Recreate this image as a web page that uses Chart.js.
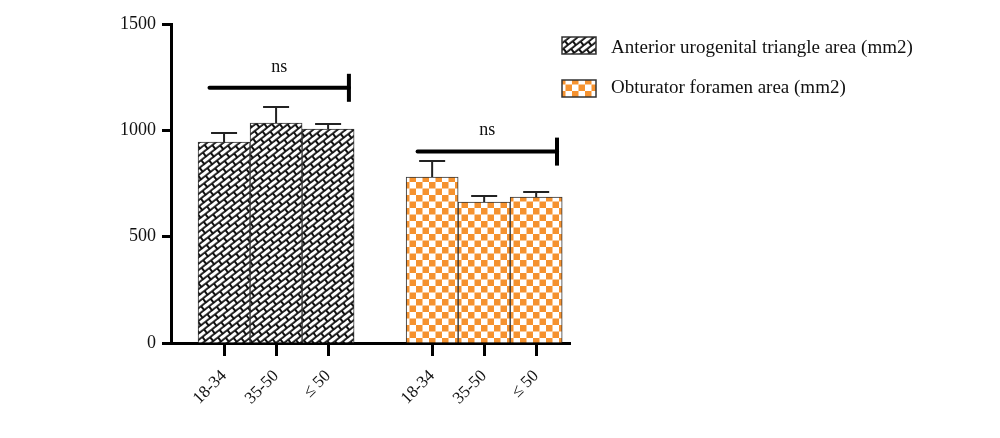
<!DOCTYPE html>
<html>
<head>
<meta charset="utf-8">
<script src="https://cdn.jsdelivr.net/npm/chart.js@4.4.0/dist/chart.umd.min.js"></script>
<style>
  html, body { margin: 0; padding: 0; background: #fff; }
  #wrap { width: 1000px; height: 438px; }
</style>
</head>
<body>
<div id="wrap"><canvas id="chart" width="1000" height="438"></canvas></div>
<script>
// 数据
const ageGroups = ['18-34', '35-50', '≤ 50'];
const seriesNames = ['Anterior urogenital triangle area (mm2)', 'Obturator foramen area (mm2)'];
const urogenitalMeans = [945, 1034, 1006];
const urogenitalErr = [42, 76, 24];
const obturatorMeans = [780, 663, 686];
const obturatorErr = [76, 28, 24];
const yTicks = [0, 500, 1000, 1500];
const sigLabels = ['ns', 'ns'];
const sigLevels = [1200, 900];

const FONT = "'Liberation Serif', serif";

// 组内位置: 每组之间空一个位置
function slot(group, i) {
    return group * (ageGroups.length + 1) + i;
}

// 砖纹图案
function brickPattern() {
    const c = document.createElement('canvas');
    c.width = 12; c.height = 10;
    const g = c.getContext('2d');
    g.fillStyle = '#111';
    g.fillRect(0, 0, 12, 10);
    g.fillStyle = '#fff';
    g.fillRect(1, 1, 10, 3.2);
    g.fillRect(7, 6, 10, 3.2);
    g.fillRect(-5, 6, 10, 3.2);
    const p = g.createPattern(c, 'repeat');
    p.setTransform(new DOMMatrix().rotate(-38));
    return p;
}

// 棋盘格图案
function checkerPattern() {
    const c = document.createElement('canvas');
    c.width = 13; c.height = 13;
    const g = c.getContext('2d');
    g.fillStyle = '#fff';
    g.fillRect(0, 0, 13, 13);
    g.fillStyle = '#F5922F';
    g.fillRect(0, 0, 6.5, 6.5);
    g.fillRect(6.5, 6.5, 6.5, 6.5);
    return g.createPattern(c, 'repeat');
}

const fills = [brickPattern(), checkerPattern()];
const means = [urogenitalMeans, obturatorMeans];
const errs = [urogenitalErr, obturatorErr];

const datasets = means.map((m, gi) => ({
    label: seriesNames[gi],
    data: m.map((v, i) => ({ x: slot(gi, i), y: v })),
    errors: errs[gi],
    backgroundColor: fills[gi],
    borderColor: '#333',
    borderWidth: 1,
    grouped: false,
    barPercentage: 1,
    categoryPercentage: 1
}));

const tickPositions = [];
const tickNames = {};
means.forEach((m, gi) => m.forEach((v, i) => {
    tickPositions.push(slot(gi, i));
    tickNames[slot(gi, i)] = ageGroups[i];
}));

// 误差线
const errorBars = {
    id: 'errorBars',
    afterDatasetsDraw(chart) {
        const ctx = chart.ctx;
        const y = chart.scales.y;
        ctx.save();
        ctx.strokeStyle = '#222';
        ctx.lineWidth = 2;
        chart.data.datasets.forEach((ds, di) => {
            chart.getDatasetMeta(di).data.forEach((bar, i) => {
                const top = y.getPixelForValue(ds.data[i].y + ds.errors[i]);
                const half = bar.width / 4;
                ctx.beginPath();
                ctx.moveTo(bar.x, bar.y);
                ctx.lineTo(bar.x, top);
                ctx.moveTo(bar.x - half, top);
                ctx.lineTo(bar.x + half, top);
                ctx.stroke();
            });
        });
        ctx.restore();
    }
};

// 显著性标记
const sigMarks = {
    id: 'sigMarks',
    afterDatasetsDraw(chart) {
        const ctx = chart.ctx;
        const xs = chart.scales.x, ys = chart.scales.y;
        ctx.save();
        sigLevels.forEach((lvl, gi) => {
            const x0 = xs.getPixelForValue(slot(gi, 0) - 0.28);
            const x1 = xs.getPixelForValue(slot(gi, ageGroups.length - 1) + 0.4);
            const yy = ys.getPixelForValue(lvl);
            ctx.strokeStyle = '#000';
            ctx.lineWidth = 4;
            ctx.lineCap = 'round';
            ctx.beginPath();
            ctx.moveTo(x0, yy);
            ctx.lineTo(x1, yy);
            ctx.stroke();
            ctx.lineCap = 'butt';
            ctx.beginPath();
            ctx.moveTo(x1, yy - 14);
            ctx.lineTo(x1, yy + 14);
            ctx.stroke();
            ctx.fillStyle = '#111';
            ctx.font = '18px ' + FONT;
            ctx.textAlign = 'center';
            ctx.textBaseline = 'middle';
            ctx.fillText(sigLabels[gi], (x0 + x1) / 2, yy - 21);
        });
        ctx.restore();
    }
};

// 图例
const sideLegend = {
    id: 'sideLegend',
    afterDraw(chart) {
        const ctx = chart.ctx;
        ctx.save();
        seriesNames.forEach((name, i) => {
            const top = 37 + i * 43;
            ctx.fillStyle = fills[i];
            ctx.fillRect(562, top, 34, 17);
            ctx.strokeStyle = '#333';
            ctx.lineWidth = 1.5;
            ctx.strokeRect(562, top, 34, 17);
            ctx.fillStyle = '#111';
            ctx.font = '19px ' + FONT;
            ctx.textAlign = 'left';
            ctx.textBaseline = 'middle';
            ctx.fillText(name, 611, top + 11 - i * 3);
        });
        ctx.restore();
    }
};

new Chart(document.getElementById('chart'), {
    type: 'bar',
    data: { datasets: datasets },
    options: {
        responsive: false,
        animation: false,
        layout: { padding: { left: 111, right: 430, top: 24, bottom: 0 } },
        plugins: {
            legend: { display: false },
            tooltip: { enabled: false }
        },
        scales: {
            x: {
                type: 'linear',
                min: -1.02,
                max: 6.65,
                offset: false,
                afterBuildTicks: scale => {
                    scale.ticks = tickPositions.map(v => ({ value: v }));
                },
                afterFit: scale => { scale.height = 95; },
                ticks: {
                    autoSkip: false,
                    minRotation: 45,
                    maxRotation: 45,
                    padding: 10,
                    color: '#111',
                    font: { family: FONT, size: 17 },
                    callback: v => tickNames[v] || ''
                },
                grid: {
                    offset: false,
                    drawOnChartArea: false,
                    drawTicks: true,
                    tickLength: 13,
                    tickWidth: 3,
                    tickColor: '#000'
                },
                border: { color: '#000', width: 3 }
            },
            y: {
                min: 0,
                max: 1500,
                afterBuildTicks: scale => {
                    scale.ticks = yTicks.map(v => ({ value: v }));
                },
                afterFit: scale => { scale.width = 60; },
                ticks: {
                    padding: 6,
                    color: '#111',
                    font: { family: FONT, size: 18 },
                    callback: v => String(v)
                },
                grid: {
                    drawOnChartArea: false,
                    drawTicks: true,
                    tickLength: 9,
                    tickWidth: 3,
                    tickColor: '#000'
                },
                border: { color: '#000', width: 3 }
            }
        }
    },
    plugins: [errorBars, sigMarks, sideLegend]
});
</script>
</body>
</html>
